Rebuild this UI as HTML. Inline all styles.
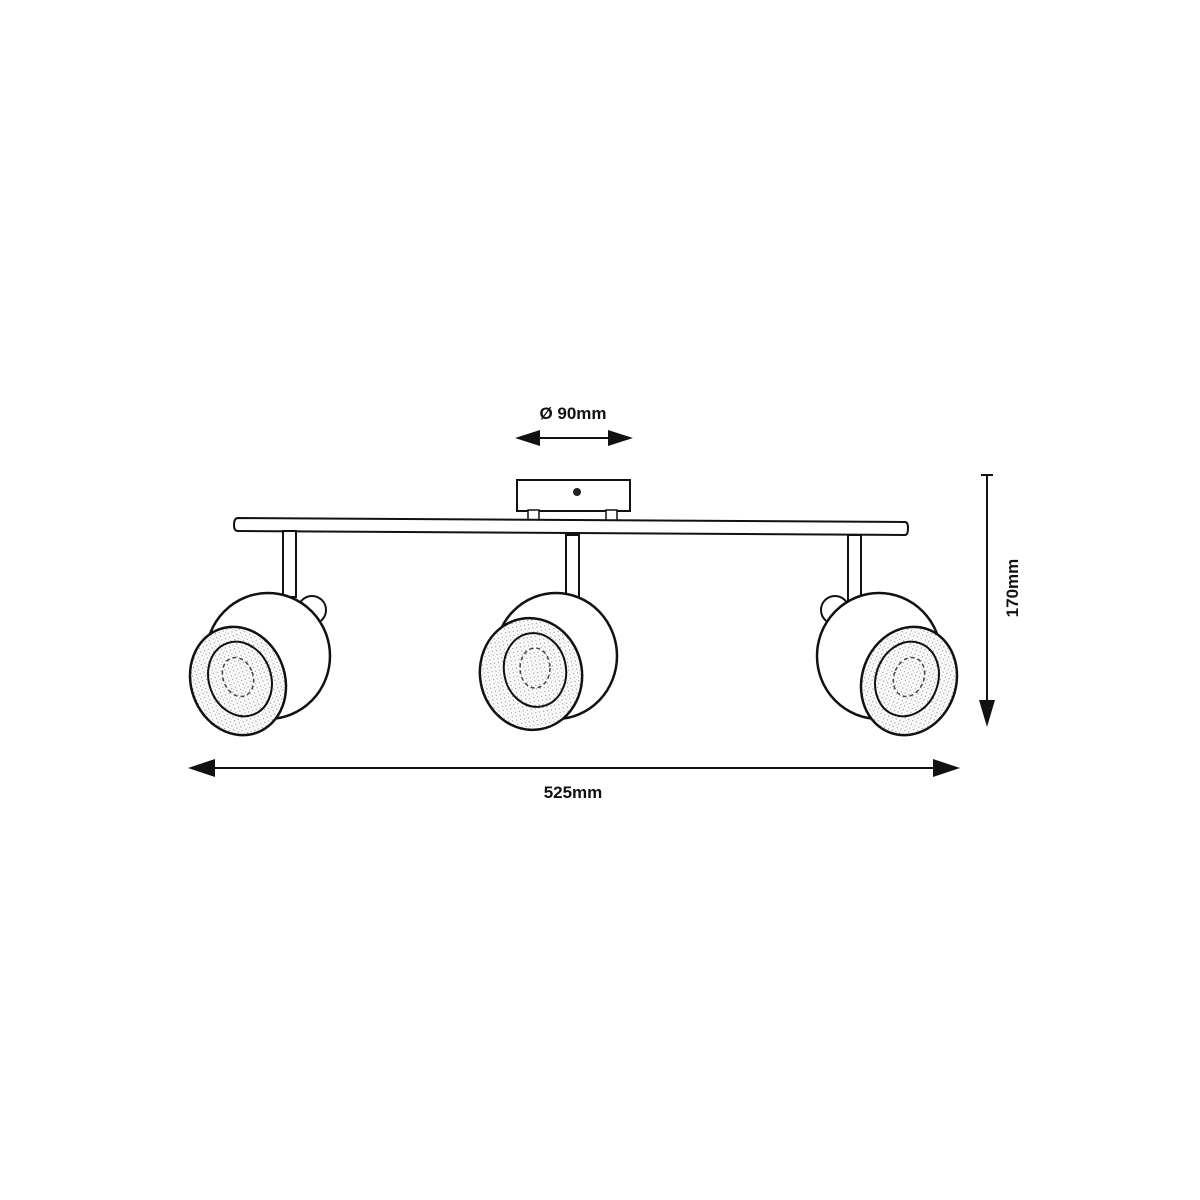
<!DOCTYPE html>
<html><head><meta charset="utf-8"><style>
html,body{margin:0;padding:0;background:#fff;}
svg{display:block}
text{font-family:"Liberation Sans",sans-serif;font-weight:bold;fill:#111}
</style></head><body>
<svg width="1200" height="1200" viewBox="0 0 1200 1200" xmlns="http://www.w3.org/2000/svg">
<defs>
<pattern id="dots" width="4" height="4" patternUnits="userSpaceOnUse">
<rect width="4" height="4" fill="#fff"/><circle cx="1" cy="1" r="0.7" fill="#999"/><circle cx="3" cy="3" r="0.5" fill="#bbb"/>
</pattern>
<g id="headL">
<circle cx="312" cy="610" r="14" fill="#fff" stroke="#111" stroke-width="2"/>
<ellipse cx="268" cy="656" rx="62" ry="63" fill="#fff" stroke="#111" stroke-width="2.5"/>
<ellipse cx="238" cy="681" rx="47" ry="55" transform="rotate(-20 238 681)" fill="url(#dots)" stroke="#111" stroke-width="2.5"/>
<ellipse cx="240" cy="679" rx="31" ry="38" transform="rotate(-20 240 679)" fill="url(#dots)" stroke="#111" stroke-width="2"/>
<ellipse cx="238" cy="677" rx="15" ry="20" transform="rotate(-20 238 677)" fill="none" stroke="#444" stroke-width="1.5" stroke-dasharray="4 3"/>
</g>
</defs>
<!-- canopy -->
<rect x="517" y="480" width="113" height="31" fill="#fff" stroke="#111" stroke-width="2"/>
<circle cx="577" cy="492" r="4" fill="#222"/>
<rect x="528" y="510" width="11" height="14" fill="#fff" stroke="#111" stroke-width="1.5"/>
<rect x="606" y="510" width="11" height="14" fill="#fff" stroke="#111" stroke-width="1.5"/>
<!-- bar -->
<path d="M238 518 L905 522 Q908 522 908 528 Q908 535 905 535 L238 531 Q234 531 234 525 Q234 518 238 518 Z" fill="#fff" stroke="#111" stroke-width="2"/>
<!-- stems -->
<rect x="283" y="531" width="13" height="66" fill="#fff" stroke="#111" stroke-width="2"/>
<rect x="566" y="535" width="13" height="64" fill="#fff" stroke="#111" stroke-width="2"/>
<rect x="848" y="535" width="13" height="67" fill="#fff" stroke="#111" stroke-width="2"/>
<!-- heads -->
<use href="#headL"/>
<use href="#headL" transform="translate(1147 0) scale(-1 1)"/>
<g>
<ellipse cx="556" cy="656" rx="61" ry="63" fill="#fff" stroke="#111" stroke-width="2.5"/>
<ellipse cx="531" cy="674" rx="51" ry="56" transform="rotate(-10 531 674)" fill="url(#dots)" stroke="#111" stroke-width="2.5"/>
<ellipse cx="535" cy="670" rx="31" ry="37" transform="rotate(-10 535 670)" fill="url(#dots)" stroke="#111" stroke-width="2"/>
<ellipse cx="535" cy="668" rx="15" ry="20" fill="none" stroke="#444" stroke-width="1.5" stroke-dasharray="4 3"/>
</g>
<!-- dim top -->
<text x="573" y="419" font-size="17" text-anchor="middle">Ø 90mm</text>
<line x1="530" y1="438" x2="618" y2="438" stroke="#111" stroke-width="2"/>
<polygon points="515,438 540,430 540,446" fill="#111"/>
<polygon points="633,438 608,430 608,446" fill="#111"/>
<!-- dim vertical -->
<line x1="981" y1="475" x2="993" y2="475" stroke="#111" stroke-width="2"/>
<line x1="987" y1="475" x2="987" y2="705" stroke="#111" stroke-width="2"/>
<polygon points="987,727 979,700 995,700" fill="#111"/>
<text x="1018" y="588" font-size="17" text-anchor="middle" transform="rotate(-90 1018 588)">170mm</text>
<!-- dim horizontal -->
<line x1="205" y1="768" x2="945" y2="768" stroke="#111" stroke-width="2"/>
<polygon points="188,768 215,759 215,777" fill="#111"/>
<polygon points="960,768 933,759 933,777" fill="#111"/>
<text x="573" y="798" font-size="17" text-anchor="middle">525mm</text>
</svg>
</body></html>
